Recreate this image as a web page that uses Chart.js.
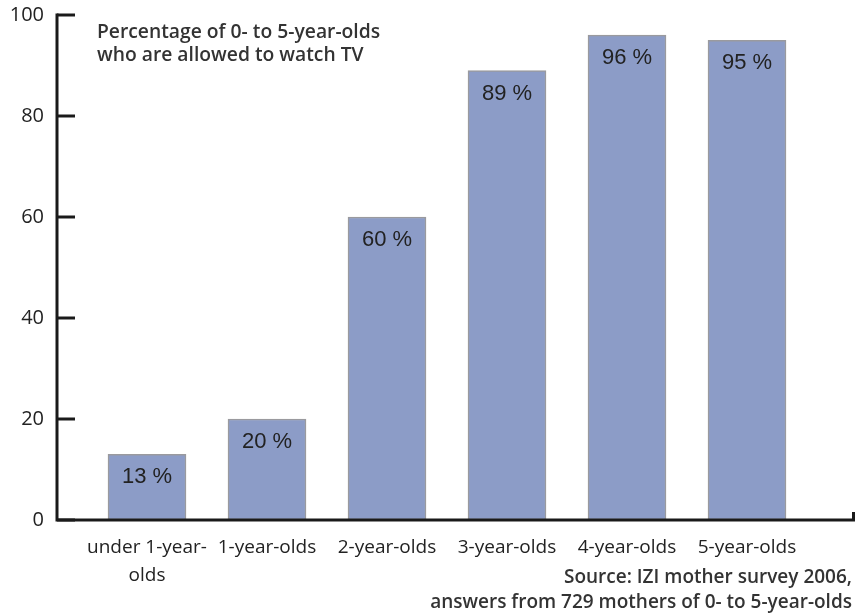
<!DOCTYPE html>
<html>
<head>
<meta charset="utf-8">
<script src="https://cdn.jsdelivr.net/npm/chart.js@4"></script>
<style>
  html, body { margin: 0; padding: 0; background: #fff; overflow: hidden; }
  #wrap { width: 857px; height: 613px; overflow: hidden; }
  #tvChart { display: block; margin-top: -6px; }
</style>
</head>
<body>
<div id="wrap"><canvas id="tvChart" width="857" height="619"></canvas></div>
<script>
'use strict';

// ── data ────────────────────────────────────────────
const CATEGORIES = [['under 1-year-', 'olds'], '1-year-olds', '2-year-olds', '3-year-olds', '4-year-olds', '5-year-olds'];
const SHARE = [13, 20, 60, 89, 96, 95];
const Y_TICKS = [0, 20, 40, 60, 80, 100];
const TITLE = ['Percentage of 0- to 5-year-olds', 'who are allowed to watch TV'];
const SOURCE = ['Source: IZI mother survey 2006,', 'answers from 729 mothers of 0- to 5-year-olds'];

const LABEL_FONT = "'Open Sans', 'DejaVu Sans', sans-serif";
const INK = '#222222';
const SHIFT = 6; // canvas is pulled up by this many px

/* axes drawn by hand: ticks point into the plot */
const axisPlugin = {
    id: 'axisLines',
    afterDatasetsDraw(chart) {
        const { ctx, chartArea: a, scales: { y } } = chart;
        ctx.save();
        ctx.strokeStyle = '#1a1a1a';
        ctx.lineWidth = 3;
        ctx.lineCap = 'butt';
        ctx.beginPath();
        ctx.moveTo(a.left, y.getPixelForValue(100) - 1.5);
        ctx.lineTo(a.left, a.bottom);
        ctx.lineTo(a.right, a.bottom);
        ctx.stroke();
        Y_TICKS.forEach(v => {
            const py = y.getPixelForValue(v);
            ctx.beginPath();
            ctx.moveTo(a.left, py);
            ctx.lineTo(a.left + 18, py);
            ctx.stroke();
        });
        ctx.beginPath();
        ctx.moveTo(a.right - 1.5, a.bottom);
        ctx.lineTo(a.right - 1.5, a.bottom - 8);
        ctx.stroke();
        ctx.restore();
    }
};

// pick a font size so that `text` spans about `target` px
function fitFont(ctx, text, target, weight) {
    ctx.font = `${weight} 20px ${LABEL_FONT}`;
    const size = 20 * target / ctx.measureText(text).width;
    return `${weight} ${size.toFixed(1)}px ${LABEL_FONT}`;
}

/* value labels inside the bars + title + source note */
const textPlugin = {
    id: 'texts',
    afterDraw(chart) {
        const { ctx } = chart;
        const meta = chart.getDatasetMeta(0);
        ctx.save();
        ctx.fillStyle = INK;
        ctx.font = "22px 'Liberation Sans', Arial, sans-serif";
        ctx.textAlign = 'center';
        ctx.textBaseline = 'middle';
        meta.data.forEach((bar, i) => {
            ctx.fillText(SHARE[i] + ' %', bar.x, bar.y + 23);
        });

        ctx.fillStyle = '#333333';
        ctx.textAlign = 'left';
        ctx.font = fitFont(ctx, TITLE[0], 283, 600);
        TITLE.forEach((t, i) => ctx.fillText(t, 97, SHIFT + 33 + i * 23));

        ctx.textAlign = 'right';
        ctx.font = fitFont(ctx, SOURCE[1], 422, 600);
        SOURCE.forEach((t, i) => ctx.fillText(t, 852, SHIFT + 578 + i * 25));
        ctx.restore();
    }
};

new Chart(document.getElementById('tvChart'), {
    type: 'bar',
    data: {
        datasets: [{
            data: SHARE.map((v, i) => ({ x: i, y: v })),
            backgroundColor: '#8c9cc7',
            borderColor: '#9a9a9e',
            borderWidth: 1.5,
            borderSkipped: false,
            barThickness: 78,
        }]
    },
    options: {
        responsive: false,
        animation: false,
        layout: { padding: { top: 21, right: 2, left: 0, bottom: 0 } },
        plugins: { legend: { display: false }, tooltip: { enabled: false } },
        scales: {
            x: {
                type: 'linear',
                offset: false,
                min: -0.75,
                max: 5.9,
                grid: { display: false },
                border: { display: false },
                afterBuildTicks: s => { s.ticks = CATEGORIES.map((_, i) => ({ value: i })); },
                afterFit: s => { s.height = 93; },
                ticks: {
                    autoSkip: false,
                    maxRotation: 0,
                    padding: 5,
                    color: INK,
                    font: { family: LABEL_FONT, size: 19, lineHeight: 1.5 },
                    callback: v => CATEGORIES[v],
                }
            },
            y: {
                min: 0,
                max: 100,
                grid: { display: false },
                border: { display: false },
                afterFit: s => { s.width = 57; },
                ticks: {
                    stepSize: 20,
                    padding: 5,
                    color: INK,
                    font: { family: LABEL_FONT, size: 20 },
                }
            }
        }
    },
    plugins: [axisPlugin, textPlugin]
});
</script>
</body>
</html>
